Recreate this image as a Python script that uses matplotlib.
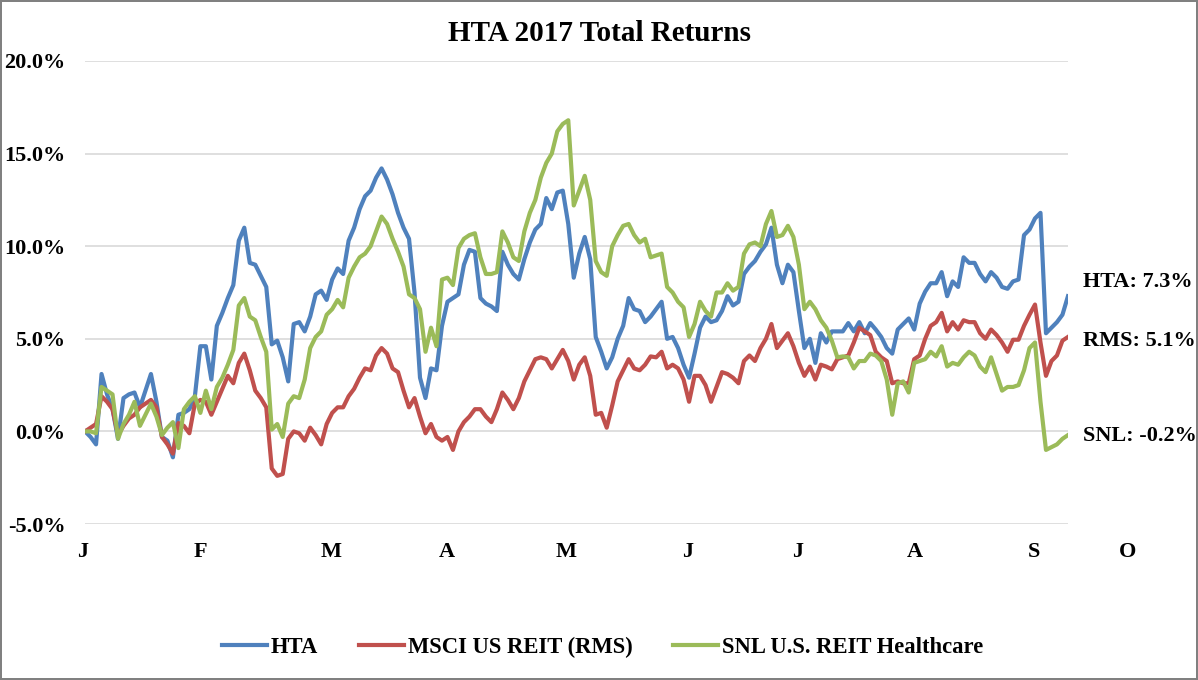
import matplotlib
matplotlib.use('Agg')
import matplotlib.pyplot as plt
import numpy as np

# daily total returns (%) for 2017, one value per trading day
hta = [0, -0.3, -0.7, 3.1, 2.0, 1.2, -0.4, 1.8, 2.0, 2.1,
       1.3, 2.2, 3.1, 1.6, -0.3, -0.5, -1.4, 0.9, 1.0, 1.2,
       1.9, 4.6, 4.6, 2.8, 5.7, 6.4, 7.2, 7.9, 10.3, 11.0,
       9.1, 9.0, 8.4, 7.8, 4.7, 4.9, 4.0, 2.7, 5.8, 5.9,
       5.4, 6.2, 7.4, 7.6, 7.1, 8.2, 8.8, 8.5, 10.3, 11.0,
       12.0, 12.7, 13.0, 13.7, 14.2, 13.6, 12.8, 11.8, 11.0, 10.4,
       7.5, 2.9, 1.8, 3.4, 3.3, 5.7, 7.0, 7.2, 7.4, 9.0,
       9.8, 9.7, 7.2, 6.9, 6.75, 6.5, 9.7, 9.0, 8.5, 8.2,
       9.3, 10.2, 10.9, 11.2, 12.6, 12.0, 12.9, 13.0, 11.2, 8.3,
       9.6, 10.5, 9.3, 5.1, 4.3, 3.4, 4.0, 5.0, 5.7, 7.2,
       6.6, 6.5, 5.9, 6.2, 6.6, 7.0, 5.0, 5.1, 4.5, 3.6,
       2.9, 4.2, 5.6, 6.2, 5.9, 6.0, 6.5, 7.3, 6.8, 7.0,
       8.5, 8.9, 9.2, 9.7, 10.1, 11.0, 9.0, 8.0, 9.0, 8.6,
       6.5, 4.5, 5.0, 3.7, 5.3, 4.8, 5.4, 5.4, 5.4, 5.85,
       5.4, 5.9, 5.3, 5.85, 5.5, 5.1, 4.5, 4.2, 5.5, 5.8,
       6.1, 5.5, 6.9, 7.55, 8.0, 8.0, 8.6, 7.3, 8.1, 7.8,
       9.4, 9.1, 9.1, 8.5, 8.1, 8.6, 8.3, 7.8, 7.7, 8.1,
       8.2, 10.6, 10.9, 11.5, 11.8, 5.3, 5.6, 5.9, 6.3, 7.3]

rms = [0, 0.2, 0.4, 1.9, 1.6, 1.2, -0.2, 0.3, 0.7, 0.9,
       1.3, 1.5, 1.7, 1.3, -0.3, -0.7, -1.2, 0.45, 0.3, -0.1,
       1.5, 1.7, 1.6, 0.9, 1.6, 2.3, 3.0, 2.6, 3.7, 4.2,
       3.3, 2.2, 1.8, 1.3, -2.0, -2.4, -2.3, -0.4, 0.0, -0.1,
       -0.5, 0.2, -0.2, -0.7, 0.4, 1.0, 1.3, 1.3, 1.9, 2.3,
       2.9, 3.4, 3.3, 4.1, 4.5, 4.2, 3.4, 3.2, 2.2, 1.3,
       1.8, 0.8, -0.1, 0.4, -0.3, -0.5, -0.3, -1.0, 0.0, 0.5,
       0.8, 1.2, 1.2, 0.8, 0.5, 1.2, 2.1, 1.7, 1.2, 1.8,
       2.7, 3.3, 3.9, 4.0, 3.9, 3.4, 3.9, 4.4, 3.8, 2.8,
       3.6, 4.0, 3.0, 0.9, 1.0, 0.2, 1.4, 2.7, 3.3, 3.9,
       3.4, 3.3, 3.6, 4.05, 4.0, 4.3, 3.4, 3.6, 3.4, 2.8,
       1.6, 3.0, 3.0, 2.5, 1.6, 2.4, 3.2, 3.1, 2.9, 2.6,
       3.8, 4.1, 3.8, 4.5, 5.0, 5.8, 4.5, 4.9, 5.3, 4.6,
       3.7, 3.0, 3.5, 2.8, 3.6, 3.5, 3.35, 3.9, 4.0, 4.1,
       4.8, 5.6, 5.4, 5.2, 4.3, 4.0, 3.8, 2.6, 2.7, 2.6,
       2.6, 3.9, 4.1, 5.0, 5.7, 5.9, 6.4, 5.4, 5.9, 5.5,
       6.0, 5.9, 5.9, 5.3, 5.0, 5.5, 5.2, 4.8, 4.3, 4.95,
       4.95, 5.7, 6.3, 6.85, 4.8, 3.0, 3.8, 4.1, 4.9, 5.1]

snl = [0, 0.0, -0.1, 2.4, 2.2, 2.0, -0.4, 0.4, 0.9, 1.6,
       0.3, 0.9, 1.5, 0.8, -0.2, 0.2, 0.5, -0.9, 1.2, 1.6,
       1.9, 1.0, 2.2, 1.2, 2.4, 2.9, 3.6, 4.4, 6.8, 7.2,
       6.2, 6.0, 5.1, 4.3, 0.1, 0.4, -0.3, 1.5, 1.9, 1.8,
       2.8, 4.5, 5.1, 5.4, 6.3, 6.6, 7.1, 6.7, 8.3, 8.9,
       9.4, 9.6, 10.0, 10.8, 11.6, 11.2, 10.4, 9.7, 8.9, 7.4,
       7.2, 6.6, 4.3, 5.6, 4.6, 8.2, 8.3, 7.9, 9.9, 10.4,
       10.6, 10.7, 9.4, 8.5, 8.5, 8.6, 10.8, 10.2, 9.4, 9.2,
       10.8, 11.8, 12.5, 13.7, 14.5, 15.0, 16.2, 16.6, 16.8, 12.2,
       13.0, 13.8, 12.5, 9.2, 8.6, 8.4, 10.0, 10.6, 11.1, 11.2,
       10.6, 10.2, 10.4, 9.4, 9.5, 9.6, 7.8, 7.5, 7.0, 6.7,
       5.1, 5.8, 7.0, 6.5, 6.2, 7.5, 7.5, 8.0, 7.6, 7.8,
       9.6, 10.1, 10.2, 10.0, 11.2, 11.9, 10.5, 10.6, 11.1, 10.5,
       9.0, 6.6, 7.0, 6.6, 6.0, 5.6, 4.9, 4.0, 4.05, 4.0,
       3.4, 3.8, 3.8, 4.2, 4.1, 3.8, 2.8, 0.9, 2.6, 2.7,
       2.1, 3.7, 3.8, 3.9, 4.3, 4.05, 4.6, 3.5, 3.7, 3.6,
       4.0, 4.3, 4.1, 3.5, 3.2, 4.0, 3.1, 2.2, 2.4, 2.4,
       2.5, 3.3, 4.5, 4.8, 1.6, -1.0, -0.85, -0.7, -0.4, -0.2]

series_names = ['HTA', 'MSCI US REIT (RMS)', 'SNL U.S. REIT Healthcare']
short_names = ['HTA', 'RMS', 'SNL']
colors = ['#4F81BD', '#C0504D', '#9BBB59']

# month initials and where they sit on the trading-day axis
month_labels = ['J', 'F', 'M', 'A', 'M', 'J', 'J', 'A', 'S', 'O']
month_pos = [-0.5, 21.1, 44.8, 65.8, 87.6, 109.8, 129.7, 151.2, 172.9, 189.8]

yticks = [-5, 0, 5, 10, 15, 20]

plt.rcParams['font.family'] = ['Liberation Serif', 'DejaVu Serif']
plt.rcParams['font.weight'] = 'bold'

fig = plt.figure(figsize=(11.98, 6.8), dpi=100)
fig.patch.set_edgecolor('#808080')
fig.patch.set_linewidth(1.5)
ax = fig.add_axes([0.071, 0.2294, 0.8209, 0.6809])

days = np.arange(len(hta))
data = [hta, rms, snl]
for vals, name, c in zip(data, series_names, colors):
    ax.plot(days, vals, color=c, lw=3, label=name, solid_joinstyle='round')

ax.set_xlim(0, len(hta) - 0.9)
ax.set_ylim(-5, 20)
ax.set_yticks(yticks)
ax.set_yticklabels(['%.1f%%' % v for v in yticks], fontsize=16, fontweight='bold')
ax.tick_params(axis='y', length=0, pad=14)
ax.set_xticks([])
ax.grid(axis='y', color='#D9D9D9', lw=1.2)
ax.set_axisbelow(True)
for s in ax.spines.values():
    s.set_visible(False)

for p, lab in zip(month_pos, month_labels):
    ax.text(p, -0.06, lab, transform=ax.get_xaxis_transform(), ha='center',
            va='center', fontsize=16, fontweight='bold', clip_on=False)

# end-of-period labels
offsets = [10, -2.6, -1]
for vals, nm, dy in zip(data, short_names, offsets):
    ax.annotate('%s: %.1f%%' % (nm, vals[-1]), xy=(days[-1], vals[-1]),
                xytext=(11, dy), textcoords='offset points', va='center',
                ha='left', fontsize=16, fontweight='bold', annotation_clip=False)

fig.text(0.5, 0.951, 'HTA 2017 Total Returns', ha='center', va='center',
         fontsize=21, fontweight='bold')

fig.legend(loc='center', bbox_to_anchor=(0.503, 0.0485), ncol=3, frameon=False,
           handlelength=2.0, handletextpad=0.15, columnspacing=1.8,
           prop={'weight': 'bold', 'size': 16.3})

fig.savefig('out.png', dpi=100, edgecolor=fig.get_edgecolor())
